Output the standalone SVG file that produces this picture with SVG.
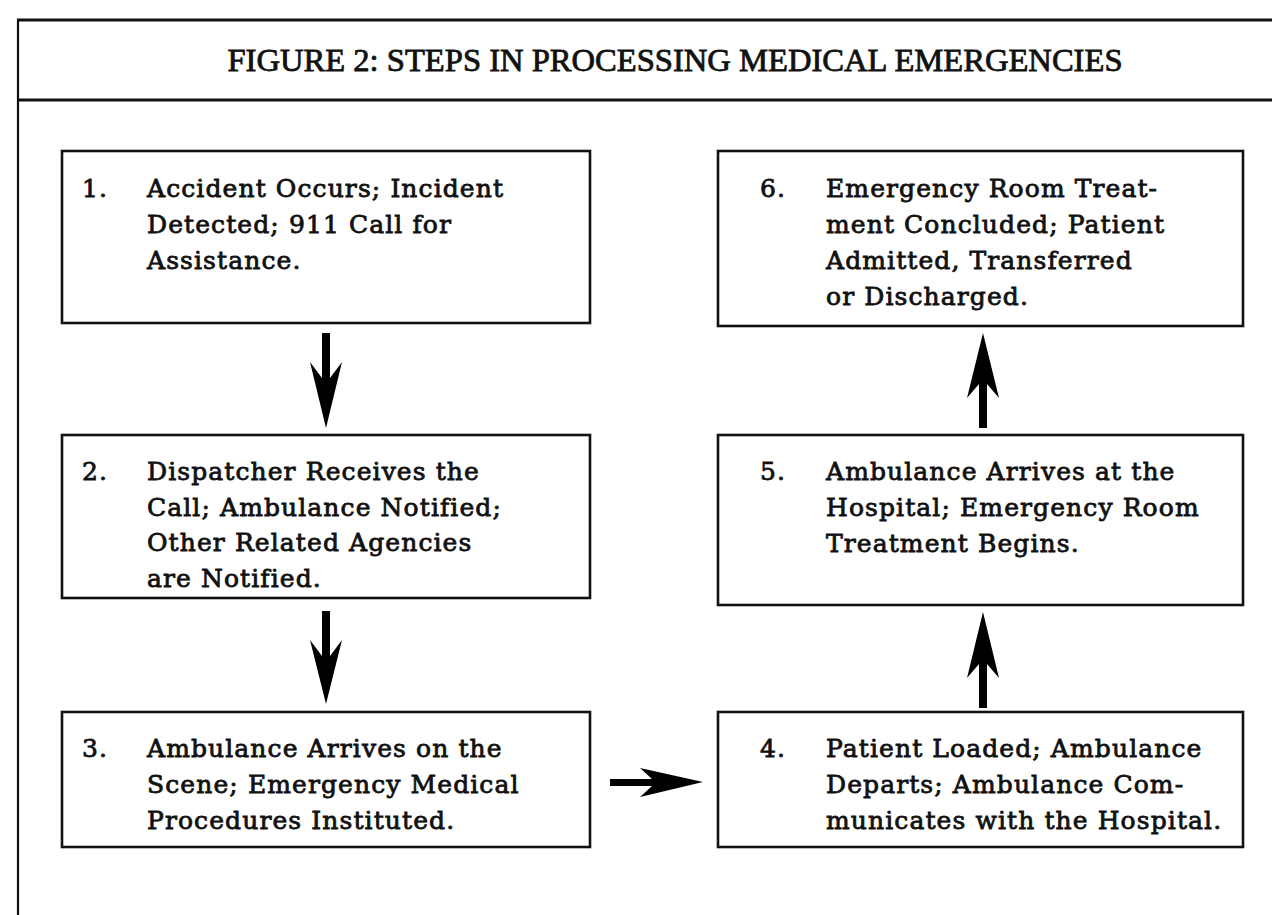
<svg xmlns="http://www.w3.org/2000/svg" width="1272" height="915" viewBox="0 0 1272 915">
<style>
.frame{fill:none;stroke:#111;stroke-width:3.2}
.box{fill:#fff;stroke:#111;stroke-width:2.6}
.t{font-family:"DejaVu Serif","Liberation Serif",serif;font-size:25px;letter-spacing:1.1px;fill:#111;stroke:#111;stroke-width:0.8}
.title{font-family:"Liberation Serif","DejaVu Serif",serif;font-size:32px;fill:#111;stroke:#111;stroke-width:0.8}
.arrow{fill:#000}
</style>
<rect width="1272" height="915" fill="#fff"/>
<g id="frame">
<line class="frame" x1="17" y1="20" x2="1272" y2="20"/>
<line class="frame" x1="17" y1="100" x2="1272" y2="100"/>
<line class="frame" x1="18" y1="19" x2="18" y2="915" style="stroke-width:2.2"/>
<text class="title" x="675" y="71" text-anchor="middle" textLength="895" lengthAdjust="spacingAndGlyphs">FIGURE 2:  STEPS IN PROCESSING MEDICAL EMERGENCIES</text>
</g>
<g id="step1">
<rect class="box" x="62" y="151" width="528" height="172"/>
<text class="t" x="82" y="197">1.</text>
<text class="t" x="147" y="197">Accident Occurs; Incident</text>
<text class="t" x="147" y="233">Detected; 911 Call for</text>
<text class="t" x="147" y="269">Assistance.</text>
</g>
<g id="step2">
<rect class="box" x="62" y="435" width="528" height="163"/>
<text class="t" x="82" y="480">2.</text>
<text class="t" x="147" y="480">Dispatcher Receives the</text>
<text class="t" x="147" y="516">Call; Ambulance Notified;</text>
<text class="t" x="147" y="551">Other Related Agencies</text>
<text class="t" x="147" y="587">are Notified.</text>
</g>
<g id="step3">
<rect class="box" x="62" y="712" width="528" height="135"/>
<text class="t" x="82" y="757">3.</text>
<text class="t" x="147" y="757">Ambulance Arrives on the</text>
<text class="t" x="147" y="793">Scene; Emergency Medical</text>
<text class="t" x="147" y="829">Procedures Instituted.</text>
</g>
<g id="step4">
<rect class="box" x="718" y="712" width="525" height="135"/>
<text class="t" x="760" y="757">4.</text>
<text class="t" x="826" y="757">Patient Loaded; Ambulance</text>
<text class="t" x="826" y="793">Departs; Ambulance Com-</text>
<text class="t" x="826" y="829">municates with the Hospital.</text>
</g>
<g id="step5">
<rect class="box" x="718" y="435" width="525" height="170"/>
<text class="t" x="760" y="480">5.</text>
<text class="t" x="826" y="480">Ambulance Arrives at the</text>
<text class="t" x="826" y="516">Hospital; Emergency Room</text>
<text class="t" x="826" y="552">Treatment Begins.</text>
</g>
<g id="step6">
<rect class="box" x="718" y="151" width="525" height="175"/>
<text class="t" x="760" y="197">6.</text>
<text class="t" x="826" y="197">Emergency Room Treat-</text>
<text class="t" x="826" y="233">ment Concluded; Patient</text>
<text class="t" x="826" y="269">Admitted, Transferred</text>
<text class="t" x="826" y="305">or Discharged.</text>
</g>
<g id="connectors">
<polygon class="arrow" points="322,333 330,333 330,378 342,362 326,428 310,362 322,378"/>
<polygon class="arrow" points="322,611 330,611 330,656 342,640 326,704 310,640 322,656"/>
<polygon class="arrow" points="610,779 652,779 640,768 703,782 640,797 652,786 610,786"/>
<polygon class="arrow" points="979,708 987,708 987,664 999,678 983,612 967,678 979,664"/>
<polygon class="arrow" points="979,428 987,428 987,384 999,398 983,333 967,398 979,384"/>
</g>
</svg>
